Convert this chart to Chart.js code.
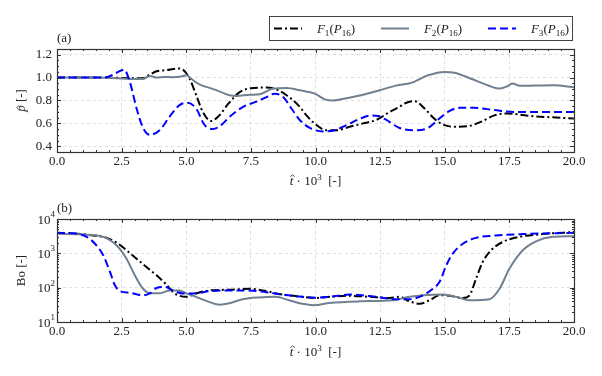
<!DOCTYPE html>
<html>
<head>
<meta charset="utf-8">
<script src="https://cdn.jsdelivr.net/npm/chart.js@4.4.0/dist/chart.umd.min.js"></script>
<style>
  body { margin: 0; background: #fff; width: 602px; height: 376px; overflow: hidden; }
  canvas { position: absolute; left: 0; }
  #top { top: 0; }
  #bot { top: 188px; }
</style>
</head>
<body>
<canvas id="top" width="602" height="188"></canvas>
<canvas id="bot" width="602" height="188"></canvas>
<script>
// tick labels
const xTicks = [0, 2.5, 5, 7.5, 10, 12.5, 15, 17.5, 20];
const pTicks = [0.4, 0.6, 0.8, 1.0, 1.2];
const boTicks = [10, 100, 1000, 10000];

// (a) pressure, p-hat [-]
const t1p = [0, 1, 2, 3, 3.33, 3.59, 3.85, 4.23, 4.68, 4.87, 5.13, 5.38, 5.64, 5.96, 6.28, 6.62, 7.08, 7.59, 8.11, 8.49, 8.88, 9.33, 9.65, 10.04, 10.42, 10.81, 11.32, 11.84, 12.35, 12.87, 13.25, 13.45, 13.83, 14.22, 14.6, 14.93, 15.38, 15.89, 16.41, 16.92, 17.44, 18.21, 18.98, 20];
const p1  = [1.0, 1.0, 1.0, 0.995, 0.995, 1.026, 1.055, 1.065, 1.08, 1.07, 0.99, 0.85, 0.70, 0.62, 0.67, 0.77, 0.875, 0.91, 0.913, 0.896, 0.846, 0.76, 0.67, 0.585, 0.54, 0.54, 0.57, 0.60, 0.63, 0.70, 0.745, 0.774, 0.794, 0.73, 0.64, 0.59, 0.57, 0.575, 0.615, 0.67, 0.687, 0.667, 0.655, 0.643];

const t2p = [0, 1, 2, 2.5, 3, 3.33, 3.59, 3.85, 4.17, 4.49, 4.81, 5.0, 5.19, 5.51, 5.9, 6.28, 6.67, 6.95, 7.46, 7.85, 8.36, 8.88, 9.39, 9.97, 10.36, 10.68, 11.2, 11.84, 12.48, 13.12, 13.7, 14.35, 14.99, 15.38, 16.02, 16.66, 17.11, 17.37, 17.63, 17.89, 18.47, 19.24, 20];
const p2  = [1.0, 1.0, 0.998, 0.993, 0.988, 0.988, 1.015, 1.0, 1.006, 1.003, 1.01, 1.02, 0.99, 0.94, 0.91, 0.88, 0.846, 0.84, 0.85, 0.855, 0.904, 0.91, 0.89, 0.86, 0.81, 0.80, 0.82, 0.85, 0.89, 0.93, 0.954, 1.02, 1.05, 1.043, 0.99, 0.933, 0.904, 0.92, 0.948, 0.928, 0.93, 0.933, 0.915];

const t3p = [0, 1, 1.86, 2.24, 2.59, 2.82, 3.08, 3.33, 3.59, 3.97, 4.36, 4.74, 5.06, 5.38, 5.7, 6.03, 6.35, 6.69, 7.2, 7.72, 8.11, 8.43, 8.75, 9.07, 9.39, 9.78, 10.29, 10.74, 11.2, 11.71, 12.16, 12.42, 12.74, 13.25, 13.83, 14.35, 14.73, 15.12, 15.57, 16.15, 16.92, 17.69, 18.47, 20];
const p3  = [1.0, 1.0, 1.0, 1.035, 1.07, 0.96, 0.73, 0.56, 0.50, 0.54, 0.66, 0.76, 0.78, 0.73, 0.59, 0.55, 0.585, 0.66, 0.745, 0.79, 0.83, 0.86, 0.83, 0.73, 0.63, 0.56, 0.53, 0.54, 0.585, 0.64, 0.67, 0.665, 0.63, 0.56, 0.54, 0.56, 0.63, 0.70, 0.736, 0.736, 0.716, 0.70, 0.70, 0.70];

// (b) Bond number, Bo [-]
const t1b = [0, 0.77, 1.41, 1.92, 2.31, 2.69, 3.08, 3.46, 3.85, 4.23, 4.49, 4.74, 5.0, 5.38, 5.9, 6.67, 7.44, 7.95, 8.72, 9.49, 10.0, 10.55, 11.32, 12.1, 12.87, 13.25, 13.64, 14.03, 14.41, 14.8, 15.19, 15.7, 15.96, 16.21, 16.47, 16.79, 17.24, 17.89, 18.79, 20];
const bo1 = [3890, 3715, 3311, 2818, 2042, 1230, 692, 398, 229, 123, 74, 58, 54, 68, 83, 87, 93, 83, 63, 54, 50, 54, 58, 54, 50, 54, 40, 34, 43, 60, 58, 50, 60, 182, 562, 1230, 2138, 3020, 3631, 4169];

const t2b = [0, 1.03, 1.79, 2.31, 2.69, 3.01, 3.33, 3.59, 3.97, 4.36, 4.74, 5.0, 5.38, 5.9, 6.28, 6.67, 7.18, 7.82, 8.46, 8.97, 9.49, 9.94, 10.55, 11.71, 13.0, 13.64, 14.16, 14.93, 15.44, 15.96, 16.73, 17.12, 17.5, 18.02, 18.53, 19.18, 20];
const bo2 = [3715, 3548, 3020, 1698, 692, 229, 93, 69, 69, 83, 83, 68, 54, 38, 32, 35, 46, 52, 54, 43, 34, 31, 36, 40, 43, 54, 60, 63, 54, 43, 46, 93, 355, 1230, 2239, 3020, 3162];

const t3b = [0, 0.77, 1.15, 1.47, 1.79, 2.05, 2.24, 2.44, 2.82, 3.33, 3.59, 3.85, 4.17, 4.49, 4.87, 5.38, 5.9, 6.67, 7.44, 8.08, 8.72, 9.49, 10.0, 10.55, 11.32, 12.35, 13.13, 13.64, 14.16, 14.54, 14.8, 15.06, 15.31, 15.7, 16.21, 16.99, 18.02, 20];
const bo3 = [3981, 3715, 3020, 1905, 871, 288, 117, 79, 71, 60, 68, 98, 105, 83, 68, 69, 79, 83, 83, 74, 63, 54, 51, 54, 63, 54, 46, 46, 60, 93, 148, 447, 977, 1905, 2818, 3311, 3631, 3981];

const SERIF = '"Liberation Serif", "DejaVu Serif", serif';
const TXT = '#222';

function pts(xs, ys) {
    return xs.map((x, i) => ({ x: x, y: ys[i] }));
}

function series(xs, ys, color, dash, order) {
    return {
        data: pts(xs, ys),
        borderColor: color,
        borderWidth: 2,
        borderDash: dash,
        pointRadius: 0,
        fill: false,
        cubicInterpolationMode: 'monotone',
        order: order
    };
}

// draw text made of pieces: italic, sub/superscript, hat
function rich(ctx, x, y, parts, size) {
    const fontOf = p => (p.i ? 'italic ' : '') + ((p.sub || p.sup) ? size * 0.7 : size) + 'px ' + SERIF;
    let w = 0;
    parts.forEach(p => { ctx.font = fontOf(p); p.w = ctx.measureText(p.t).width; w += p.w; });
    let cx = x - w / 2;
    ctx.textAlign = 'left';
    ctx.textBaseline = 'alphabetic';
    parts.forEach(p => {
        ctx.font = fontOf(p);
        let dy = p.sub ? size * 0.2 : (p.sup ? -size * 0.42 : 0);
        ctx.fillText(p.t, cx, y + dy);
        if (p.hat) {
            const hx = cx + p.w / 2 + 1, hy = y - size * (p.t === 't' ? 0.78 : 0.62);
            ctx.beginPath();
            ctx.lineWidth = 0.8;
            ctx.moveTo(hx - 2.2, hy + 1.8);
            ctx.lineTo(hx, hy);
            ctx.lineTo(hx + 2.2, hy + 1.8);
            ctx.stroke();
        }
        cx += p.w;
    });
}

// matplotlib-like frame with inward ticks on all four sides
const framePlugin = {
    id: 'frame',
    afterDraw(chart, args, opts) {
        const ctx = chart.ctx, a = chart.chartArea;
        const xs = chart.scales.x, ys = chart.scales.y;
        ctx.save();
        ctx.strokeStyle = '#333';
        ctx.fillStyle = TXT;
        ctx.lineWidth = 1;
        ctx.beginPath();
        for (let v = 0; v <= 20.001; v += 0.5) {
            const px = Math.round(xs.getPixelForValue(v)) + 0.5;
            const len = Math.abs(v / 2.5 - Math.round(v / 2.5)) < 1e-6 ? 4 : 2;
            ctx.moveTo(px, a.bottom); ctx.lineTo(px, a.bottom - len);
            ctx.moveTo(px, a.top); ctx.lineTo(px, a.top + len);
        }
        opts.yMinor.forEach(v => {
            const py = Math.round(ys.getPixelForValue(v)) + 0.5;
            const len = opts.yMajor.includes(v) ? 4 : 2;
            ctx.moveTo(a.left, py); ctx.lineTo(a.left + len, py);
            ctx.moveTo(a.right, py); ctx.lineTo(a.right - len, py);
        });
        ctx.stroke();
        ctx.lineWidth = 1.2;
        ctx.strokeRect(Math.round(a.left) + 0.5, Math.round(a.top) + 0.5, Math.round(a.right - a.left), Math.round(a.bottom - a.top));

        // panel tag
        ctx.font = '13px ' + SERIF;
        ctx.textAlign = 'left';
        ctx.textBaseline = 'alphabetic';
        ctx.fillText(opts.tag, a.left, a.top - 7);

        // axis titles
        ctx.strokeStyle = TXT;
        rich(ctx, (a.left + a.right) / 2, opts.xTitleY, [
            { t: 't', i: true, hat: true }, { t: ' · 10' }, { t: '3', sup: true }, { t: '  [-]' }
        ], 13);
        ctx.save();
        ctx.translate(25, (a.top + a.bottom) / 2);
        ctx.rotate(-Math.PI / 2);
        rich(ctx, 0, 0, opts.yTitle, 13);
        ctx.restore();

        if (opts.logLabels) {
            opts.yMajor.forEach(v => {
                const py = ys.getPixelForValue(v);
                const e = String(Math.round(Math.log10(v)));
                ctx.font = '9px ' + SERIF;
                const ew = ctx.measureText(e).width;
                ctx.textAlign = 'left';
                ctx.fillText(e, 55 - ew, py - 2);
                ctx.font = '13px ' + SERIF;
                ctx.textAlign = 'right';
                ctx.fillText('10', 55 - ew, py + 4.5);
            });
        }

        if (opts.legend) {
            ctx.fillStyle = '#fff';
            ctx.fillRect(269, 16, 304, 25);
            ctx.strokeStyle = '#444';
            ctx.lineWidth = 1;
            ctx.strokeRect(269.5, 16.5, 303, 24);
            const items = [
                { c: '#000', d: [8, 3, 2, 3], x: 274, n: '1' },
                { c: '#708090', d: [], x: 381, n: '2' },
                { c: '#0000ff', d: [8, 4], x: 488, n: '3' }
            ];
            items.forEach(it => {
                ctx.beginPath();
                ctx.strokeStyle = it.c;
                ctx.lineWidth = 2;
                ctx.setLineDash(it.d);
                ctx.moveTo(it.x, 28.5);
                ctx.lineTo(it.x + 28, 28.5);
                ctx.stroke();
                ctx.setLineDash([]);
                ctx.fillStyle = TXT;
                rich(ctx, it.x + 62, 33, [
                    { t: 'F', i: true }, { t: it.n, sub: true }, { t: '(' },
                    { t: 'P', i: true }, { t: '16', sub: true }, { t: ')' }
                ], 13);
            });
        }
        ctx.restore();
    }
};

function xAxis(h) {
    return {
        type: 'linear', min: 0, max: 20,
        afterBuildTicks: s => { s.ticks = xTicks.map(v => ({ value: v })); },
        afterFit: s => { s.height = h; },
        ticks: { callback: v => v.toFixed(1), font: { family: SERIF, size: 13 }, color: TXT, padding: 2, maxRotation: 0, autoSkip: false },
        grid: { color: '#d6d6d6', lineWidth: 0.8, drawTicks: false },
        border: { display: false, dash: [3, 3] }
    };
}

const common = {
    responsive: false,
    animation: false,
    devicePixelRatio: 1,
    plugins: { legend: { display: false }, tooltip: { enabled: false } }
};

new Chart(document.getElementById('top').getContext('2d'), {
    type: 'line',
    data: {
        datasets: [
            series(t1p, p1, '#000000', [8, 3, 2, 3], 3),
            series(t2p, p2, '#708090', [], 2),
            series(t3p, p3, '#0000ff', [8, 4], 1)
        ]
    },
    options: Object.assign({}, common, {
        layout: { padding: { top: 49, right: 28, left: 0, bottom: 0 } },
        scales: {
            x: xAxis(36),
            y: {
                type: 'linear', min: 0.35, max: 1.25,
                afterBuildTicks: s => { s.ticks = pTicks.map(v => ({ value: v })); },
                afterFit: s => { s.width = 57; },
                ticks: { callback: v => v.toFixed(1), font: { family: SERIF, size: 13 }, color: TXT, padding: 5 },
                grid: { color: '#d6d6d6', lineWidth: 0.8, drawTicks: false },
                border: { display: false, dash: [3, 3] }
            }
        },
        plugins: Object.assign({}, common.plugins, {
            frame: {
                tag: '(a)', xTitleY: 185, legend: true, logLabels: false,
                yMajor: pTicks,
                yMinor: [0.4, 0.45, 0.5, 0.55, 0.6, 0.65, 0.7, 0.75, 0.8, 0.85, 0.9, 0.95, 1.0, 1.05, 1.1, 1.15, 1.2],
                yTitle: [{ t: 'p', i: true, hat: true }, { t: ' [-]' }]
            }
        })
    }),
    plugins: [framePlugin]
});

const logMinor = [];
[10, 100, 1000].forEach(d => { for (let k = 1; k < 10; k++) logMinor.push(k * d); });
logMinor.push(10000);

new Chart(document.getElementById('bot').getContext('2d'), {
    type: 'line',
    data: {
        datasets: [
            series(t1b, bo1, '#000000', [8, 3, 2, 3], 3),
            series(t2b, bo2, '#708090', [], 2),
            series(t3b, bo3, '#0000ff', [8, 4], 1)
        ]
    },
    options: Object.assign({}, common, {
        layout: { padding: { top: 31, right: 28, left: 0, bottom: 0 } },
        scales: {
            x: xAxis(54),
            y: {
                type: 'logarithmic', min: 10, max: 10000,
                afterBuildTicks: s => { s.ticks = boTicks.map(v => ({ value: v })); },
                afterFit: s => { s.width = 57; },
                ticks: { display: false },
                grid: { color: '#d6d6d6', lineWidth: 0.8, drawTicks: false },
                border: { display: false, dash: [3, 3] }
            }
        },
        plugins: Object.assign({}, common.plugins, {
            frame: {
                tag: '(b)', xTitleY: 168, legend: false, logLabels: true,
                yMajor: boTicks,
                yMinor: logMinor,
                yTitle: [{ t: 'Bo [-]' }]
            }
        })
    }),
    plugins: [framePlugin]
});
</script>
</body>
</html>
